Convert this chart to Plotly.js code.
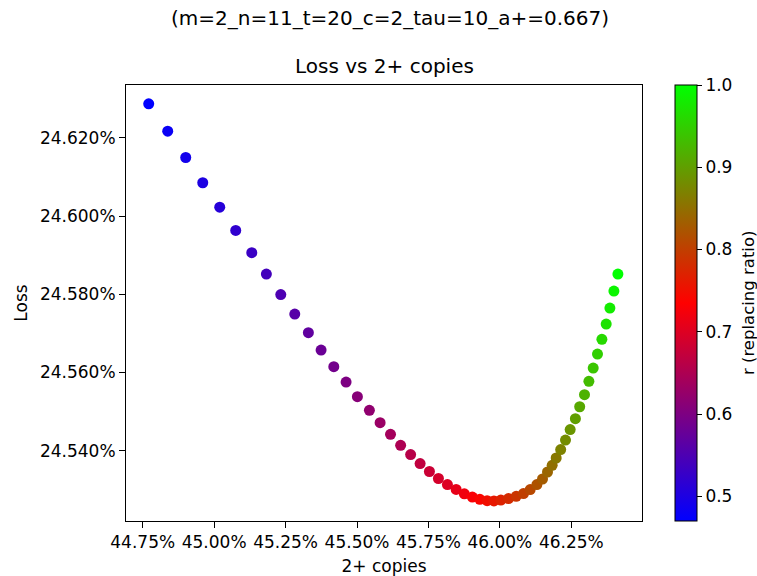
<!DOCTYPE html>
<html>
<head>
<meta charset="utf-8">
<script src="https://cdn.plot.ly/plotly-3.0.1.min.js"></script>
<style>html,body{margin:0;padding:0;background:#fff;}#chart{width:757px;height:576px;}</style>
</head>
<body>
<div id="chart"></div>
<script>
// 2+ copies (percent)
const copies = [
  44.7710, 44.8375, 44.9006, 44.9601, 45.0196, 45.0756, 45.1317, 45.1828, 45.2332, 45.2822,
  45.3298, 45.3743, 45.4188, 45.4618, 45.5014, 45.5434, 45.5809, 45.6173, 45.6527, 45.6877,
  45.7209, 45.7535, 45.7850, 45.8165, 45.8470, 45.8757, 45.9037, 45.9300, 45.9555, 45.9793,
  46.0035, 46.0301, 46.0571, 46.0826, 46.1061, 46.1296, 46.1492, 46.1667, 46.1831, 46.1971,
  46.2129, 46.2297, 46.2461, 46.2644, 46.2794, 46.2962, 46.3116, 46.3267, 46.3417, 46.3571,
  46.3722, 46.3852, 46.3992, 46.4132
];
// Loss (percent)
const loss = [
  24.62869, 24.62169, 24.61496, 24.60850, 24.60226, 24.59631, 24.59061, 24.58514, 24.57990, 24.57491,
  24.57016, 24.56571, 24.56147, 24.55753, 24.55380, 24.55030, 24.54713, 24.54417, 24.54135, 24.53898,
  24.53670, 24.53466, 24.53287, 24.53133, 24.53006, 24.52896, 24.52812, 24.52755, 24.52719, 24.52714,
  24.52735, 24.52773, 24.52832, 24.52901, 24.53003, 24.53131, 24.53274, 24.53453, 24.53624, 24.53811,
  24.54026, 24.54271, 24.54537, 24.54818, 24.55122, 24.55431, 24.55771, 24.56111, 24.56469, 24.56845,
  24.57236, 24.57645, 24.58079, 24.58514
];
// r (replacing ratio)
const ratio = [
  0.47, 0.48, 0.49, 0.50, 0.51, 0.52, 0.53, 0.54, 0.55, 0.56,
  0.57, 0.58, 0.59, 0.60, 0.61, 0.62, 0.63, 0.64, 0.65, 0.66,
  0.67, 0.68, 0.69, 0.70, 0.71, 0.72, 0.73, 0.74, 0.75, 0.76,
  0.77, 0.78, 0.79, 0.80, 0.81, 0.82, 0.83, 0.84, 0.85, 0.86,
  0.87, 0.88, 0.89, 0.90, 0.91, 0.92, 0.93, 0.94, 0.95, 0.96,
  0.97, 0.98, 0.99, 1.00
];
const suptitleText = '(m=2_n=11_t=20_c=2_tau=10_a+=0.667)';
const titleText = 'Loss vs 2+ copies';
const xLabel = '2+ copies';
const yLabel = 'Loss';
const cbLabel = 'r (replacing ratio)';

const FONT = 'DejaVu Sans, sans-serif';
const FS = 17;
const trace = {
  type: 'scatter',
  mode: 'markers',
  x: copies,
  y: loss,
  marker: {
    size: 11,
    color: ratio,
    colorscale: [[0, 'rgb(0,0,255)'], [0.5, 'rgb(255,0,0)'], [1, 'rgb(0,255,0)']],
    line: {width: 0},
    showscale: true,
    colorbar: {
      x: 1.0632, xanchor: 'left', xpad: 0, xref: 'paper',
      y: 0.5, yanchor: 'middle', ypad: 0,
      len: 1, lenmode: 'fraction',
      thickness: 22, thicknessmode: 'pixels',
      outlinewidth: 1, outlinecolor: '#000',
      ticks: 'outside', ticklen: 5, tickwidth: 1, tickcolor: '#000',
      tick0: 0.5, dtick: 0.1, tickformat: '.1f',
      tickfont: {family: FONT, size: FS, color: '#000'}
    }
  },
  hoverinfo: 'x+y'
};

const layout = {
  width: 757, height: 576,
  margin: {l: 126, r: 115.3, t: 85, b: 55.3, pad: 0, autoexpand: false},
  paper_bgcolor: '#fff', plot_bgcolor: '#fff',
  showlegend: false,
  font: {family: FONT, size: FS, color: '#000'},
  xaxis: {
    range: [44.6915, 46.4975],
    tick0: 44.75, dtick: 0.25, tickformat: '.2f', ticksuffix: '%',
    ticks: 'outside', ticklen: 6, tickwidth: 1, tickcolor: '#000',
    showline: true, linecolor: '#000', linewidth: 1, mirror: true,
    showgrid: false, zeroline: false, automargin: false,
    tickfont: {family: FONT, size: FS, color: '#000'},
    title: {text: xLabel, standoff: 8, font: {family: FONT, size: FS, color: '#000'}}
  },
  yaxis: {
    range: [24.5220, 24.6335],
    tick0: 24.54, dtick: 0.02, tickformat: '.3f', ticksuffix: '%',
    ticks: 'outside', ticklen: 6, tickwidth: 1, tickcolor: '#000',
    showline: true, linecolor: '#000', linewidth: 1, mirror: true,
    showgrid: false, zeroline: false, automargin: false,
    tickfont: {family: FONT, size: FS, color: '#000'},
    title: {text: yLabel, standoff: 8, font: {family: FONT, size: FS, color: '#000'}}
  },
  annotations: [
    {text: suptitleText, xref: 'paper', yref: 'paper', x: 0.5119, y: 1.153,
     xanchor: 'center', yanchor: 'middle', showarrow: false,
     font: {family: FONT, size: 20, color: '#000'}},
    {text: titleText, xref: 'paper', yref: 'paper', x: 0.5, y: 1.043,
     xanchor: 'center', yanchor: 'middle', showarrow: false,
     font: {family: FONT, size: 20, color: '#000'}},
    {text: cbLabel, xref: 'paper', yref: 'paper', x: 1.2055, y: 0.5,
     xanchor: 'center', yanchor: 'middle', textangle: -90, showarrow: false,
     font: {family: FONT, size: 16.5, color: '#000'}}
  ]
};

Plotly.newPlot('chart', [trace], layout, {displayModeBar: false, staticPlot: true});
</script>
</body>
</html>
